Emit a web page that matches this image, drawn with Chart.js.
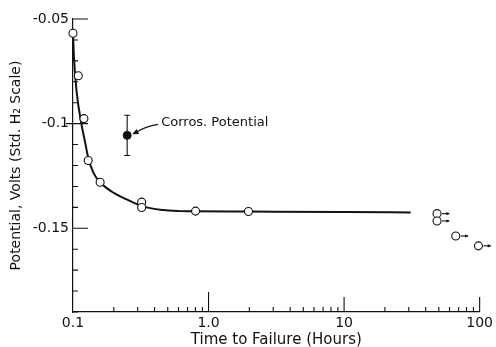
<!DOCTYPE html>
<html>
<head>
<meta charset="utf-8">
<script src="https://cdn.jsdelivr.net/npm/chart.js@4"></script>
<style>
  html, body { margin: 0; padding: 0; background: #fff; }
  canvas { display: block; }
</style>
</head>
<body>
<canvas id="chart-potential" width="496" height="347"></canvas>
<script>
// smooth fitted curve
const curveTime = [0.1, 0.1017, 0.1063, 0.1156, 0.1224, 0.1295, 0.1416, 0.1585, 0.1985, 0.249, 0.321, 0.462, 0.612, 0.802, 2.0, 10, 31];
const curvePotential = [-0.0568, -0.0687, -0.0846, -0.1005, -0.1084, -0.1163, -0.1235, -0.128, -0.133, -0.1362, -0.1394, -0.1413, -0.1418, -0.1419, -0.142, -0.1422, -0.1424];

// measured points (open circles)
const measTime = [0.1, 0.1094, 0.1204, 0.1295, 0.1585, 0.321, 0.321, 0.802, 1.97];
const measPotential = [-0.0568, -0.0771, -0.0976, -0.1176, -0.128, -0.1375, -0.1401, -0.1418, -0.142];

// specimens that did not fail (arrows)
const runoutTime = [48.5, 48.5, 66.6, 98];
const runoutPotential = [-0.143, -0.1465, -0.1537, -0.1584];

// corrosion potential with spread
const corrosTime = [0.251];
const corrosPotential = [-0.1056];
const corrosSpread = [0.0096];

const xTickValues = [0.1, 1, 10, 100];
const xTickLabels = ["0.1", "1.0", "10", "100"];
const yTickValues = [-0.05, -0.1, -0.15];
const yTickLabels = ["-0.05", "-0.1", "-0.15"];

const ink = "#111";
const fontFamily = "'DejaVu Sans', 'Liberation Sans', sans-serif";

const toPoints = (xs, ys) => xs.map((x, i) => ({ x: x, y: ys[i] }));

function arrowHead(ctx, x, y, angle, size) {
  ctx.beginPath();
  ctx.moveTo(x, y);
  ctx.lineTo(x - size * Math.cos(angle - 0.4), y - size * Math.sin(angle - 0.4));
  ctx.lineTo(x - size * Math.cos(angle + 0.4), y - size * Math.sin(angle + 0.4));
  ctx.closePath();
  ctx.fill();
}

const decorations = {
  id: "decorations",
  afterDatasetsDraw(chart) {
    const ctx = chart.ctx;
    const xs = chart.scales.x;
    const ys = chart.scales.y;
    const area = chart.chartArea;
    ctx.save();
    ctx.strokeStyle = ink;
    ctx.fillStyle = ink;
    ctx.lineWidth = 1.1;

    // x ticks (inside)
    ctx.beginPath();
    [0.1, 1, 10].forEach((d) => {
      for (let m = 2; m <= 9; m++) {
        const px = xs.getPixelForValue(m * d);
        ctx.moveTo(px, area.bottom);
        ctx.lineTo(px, area.bottom - 5);
      }
    });
    [1, 10, 100].forEach((v) => {
      const px = xs.getPixelForValue(v);
      ctx.moveTo(px, area.bottom);
      ctx.lineTo(px, area.bottom - (v === 1 ? 20 : 15));
    });
    // y ticks (inside)
    for (let k = 5; k <= 19; k++) {
      const py = ys.getPixelForValue(-k / 100);
      const major = k % 5 === 0;
      ctx.moveTo(area.left, py);
      ctx.lineTo(area.left + (major ? 15 : 5), py);
      if (k === 10) {
        ctx.moveTo(area.left - 7, py);
        ctx.lineTo(area.left, py);
      }
    }
    ctx.stroke();

    // arrows on run-out points
    const runMeta = chart.getDatasetMeta(2);
    runMeta.data.forEach((pt) => {
      ctx.beginPath();
      ctx.moveTo(pt.x + 5, pt.y);
      ctx.lineTo(pt.x + 12, pt.y);
      ctx.stroke();
      arrowHead(ctx, pt.x + 13, pt.y, 0, 4);
    });

    // error bar on corrosion potential
    corrosTime.forEach((t, i) => {
      const px = xs.getPixelForValue(t);
      const top = ys.getPixelForValue(corrosPotential[i] + corrosSpread[i]);
      const bot = ys.getPixelForValue(corrosPotential[i] - corrosSpread[i]);
      ctx.beginPath();
      ctx.moveTo(px, top);
      ctx.lineTo(px, bot);
      ctx.moveTo(px - 3, top);
      ctx.lineTo(px + 3, top);
      ctx.moveTo(px - 3, bot);
      ctx.lineTo(px + 3, bot);
      ctx.stroke();

      // label with arrow
      const py = ys.getPixelForValue(corrosPotential[i]);
      ctx.beginPath();
      ctx.moveTo(px + 31, py - 11);
      ctx.quadraticCurveTo(px + 18, py - 9, px + 9, py - 3);
      ctx.stroke();
      arrowHead(ctx, px + 5, py - 1, Math.atan2(2, -4), 7);
      ctx.font = "13px " + fontFamily;
      ctx.textBaseline = "middle";
      ctx.textAlign = "left";
      ctx.fillText("Corros. Potential", px + 34, py - 13);
    });
    ctx.restore();
  },
};

new Chart(document.getElementById("chart-potential").getContext("2d"), {
  type: "scatter",
  data: {
    datasets: [
      {
        label: "fit",
        type: "line",
        data: toPoints(curveTime, curvePotential),
        borderColor: ink,
        borderWidth: 2,
        pointRadius: 0,
        cubicInterpolationMode: "monotone",
        fill: false,
        clip: false,
        order: 2,
      },
      {
        label: "measured",
        data: toPoints(measTime, measPotential),
        pointRadius: 4,
        pointBorderWidth: 1.1,
        pointBackgroundColor: "#fff",
        pointBorderColor: ink,
        clip: false,
        order: 1,
      },
      {
        label: "runout",
        data: toPoints(runoutTime, runoutPotential),
        pointRadius: 4,
        pointBorderWidth: 1.1,
        pointBackgroundColor: "#fff",
        pointBorderColor: ink,
        clip: false,
        order: 1,
      },
      {
        label: "corros",
        data: toPoints(corrosTime, corrosPotential),
        pointRadius: 4,
        pointBorderWidth: 1,
        pointBackgroundColor: ink,
        pointBorderColor: ink,
        clip: false,
        order: 1,
      },
    ],
  },
  options: {
    responsive: false,
    animation: false,
    devicePixelRatio: 1,
    layout: { padding: { top: 19, right: 14, left: 0, bottom: 0 } },
    plugins: { legend: { display: false }, tooltip: { enabled: false } },
    scales: {
      x: {
        type: "logarithmic",
        min: 0.1,
        max: 100,
        afterFit: (scale) => { scale.height = 35; },
        afterBuildTicks: (scale) => { scale.ticks = xTickValues.map((v) => ({ value: v })); },
        ticks: {
          color: ink,
          padding: 3,
          maxRotation: 0,
          autoSkip: false,
          font: { family: fontFamily, size: 14 },
          callback: (value) => xTickLabels[xTickValues.indexOf(value)],
        },
        grid: { display: false, drawTicks: false },
        border: { display: true, color: ink, width: 1.2 },
        title: {
          display: true,
          text: "Time to Failure (Hours)",
          color: ink,
          font: { family: fontFamily, size: 15 },
          padding: { top: 0, bottom: -2 },
        },
      },
      y: {
        type: "linear",
        min: -0.19,
        max: -0.05,
        afterFit: (scale) => { scale.width = 73; },
        afterBuildTicks: (scale) => { scale.ticks = yTickValues.map((v) => ({ value: v })); },
        ticks: {
          color: ink,
          padding: 4,
          font: { family: fontFamily, size: 14 },
          callback: (value) => yTickLabels[yTickValues.indexOf(value)],
        },
        grid: { display: false, drawTicks: false },
        border: { display: true, color: ink, width: 1.2 },
        title: {
          display: true,
          text: "Potential, Volts (Std. H\u2082 Scale)",
          color: ink,
          font: { family: fontFamily, size: 14 },
          padding: { top: 8, bottom: 0 },
        },
      },
    },
  },
  plugins: [decorations],
});
</script>
</body>
</html>
